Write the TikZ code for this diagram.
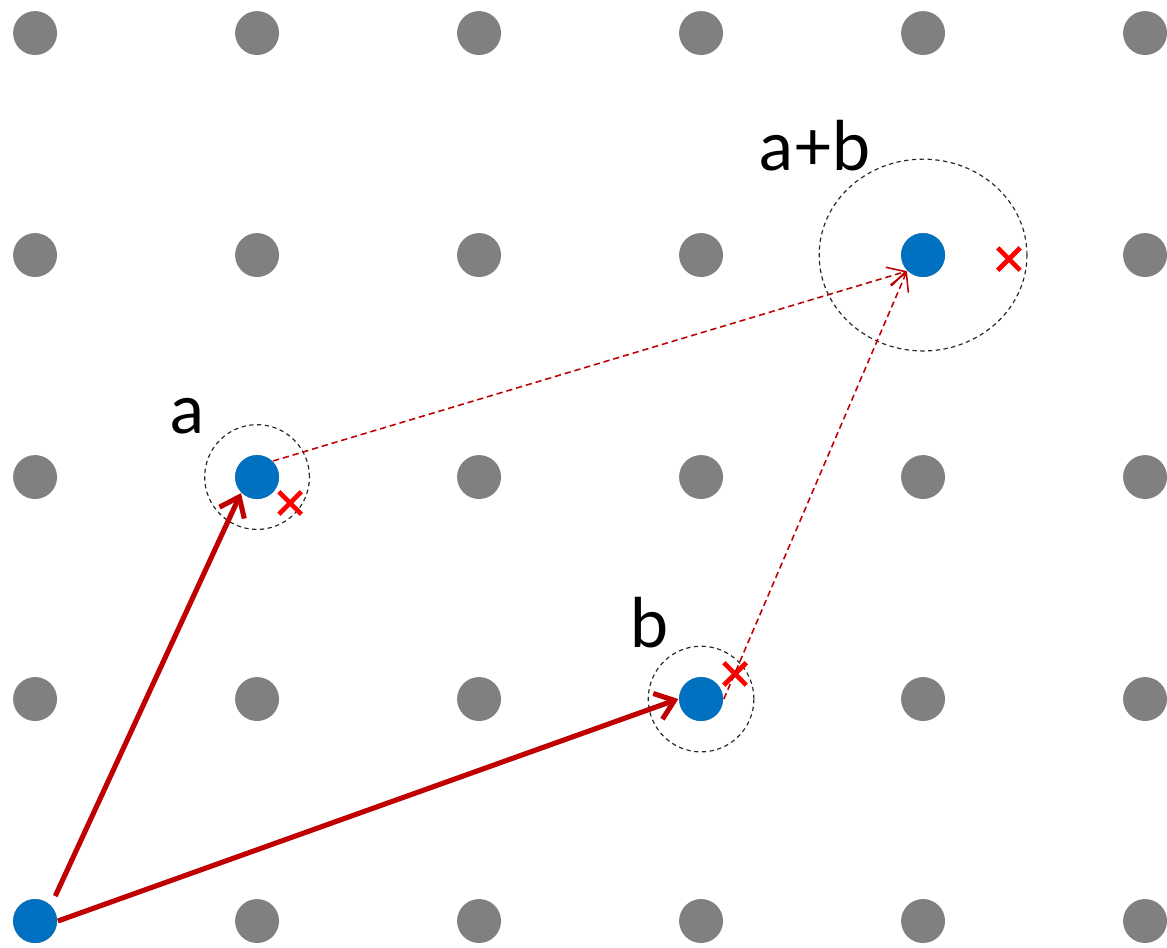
\documentclass[tikz,border=0pt]{standalone}
\usepackage{fontspec}
\setmainfont{Lato}
\usetikzlibrary{arrows.meta,positioning,shapes.misc}
\definecolor{latt}{HTML}{808080}
\definecolor{ptblue}{HTML}{0070C0}
\definecolor{vecred}{HTML}{C00000}
\definecolor{noisered}{HTML}{FF0000}
\tikzset{
  pt/.style={circle, fill=latt, minimum size=3.96mm, inner sep=0pt},
  bluept/.style={pt, fill=ptblue},
  ring/.style={draw=black!85, dash pattern=on 1.1pt off 0.9pt, line width=0.3pt},
  vec/.style={-{Straight Barb[length=4.5pt,width=7pt]}, line width=1.3pt, draw=vecred},
  sumvec/.style={-{Straight Barb[length=4.5pt,width=5pt]}, line width=0.4pt,
                 draw=vecred, dash pattern=on 1.6pt off 1pt},
  noise/.style={cross out, draw=noisered, line width=1.2pt, minimum size=1.6mm, inner sep=0pt},
  lbl/.style={font=\fontsize{17.5}{20}\selectfont, anchor=base}
}

\begin{document}
\begin{tikzpicture}[x=2cm,y=2cm]
  \useasboundingbox (-0.158,-0.117) rectangle (5.099,4.149);
  \foreach \i in {0,...,5}
    \foreach \j in {0,...,4}
      \node[pt] (g\i\j) at (\i,\j) {};
  \node[bluept] (o) at (0,0) {};
  \node[bluept] (a) at (1,2) {};
  \node[bluept] (b) at (3,1) {};
  \node[bluept] (ab) at (4,3) {};
  \draw[ring] (a) circle[radius=0.236];
  \draw[ring] (b) circle[radius=0.238];
  \draw[ring] (ab) ellipse[x radius=0.468, y radius=0.432];
  \node[noise] (na) at (1.149,1.883) {};
  \node[noise] (nb) at (3.153,1.113) {};
  \node[noise] (nab) at (4.387,2.982) {};
  \node[lbl] (la) at (0.685,2.198) {a};
  \node[lbl] (lb) at (2.770,1.230) {b};
  \node[lbl] (lab) at (3.514,3.383) {a+b};
  \draw[vec, shorten <=2.5pt] (o.north east) -- (a.south west);
  \draw[vec] (o.east) -- (b.west);
  \draw[sumvec] (a.north east) -- (ab.south west);
  \draw[sumvec] (b.east) -- (ab.south west);
\end{tikzpicture}
\end{document}
